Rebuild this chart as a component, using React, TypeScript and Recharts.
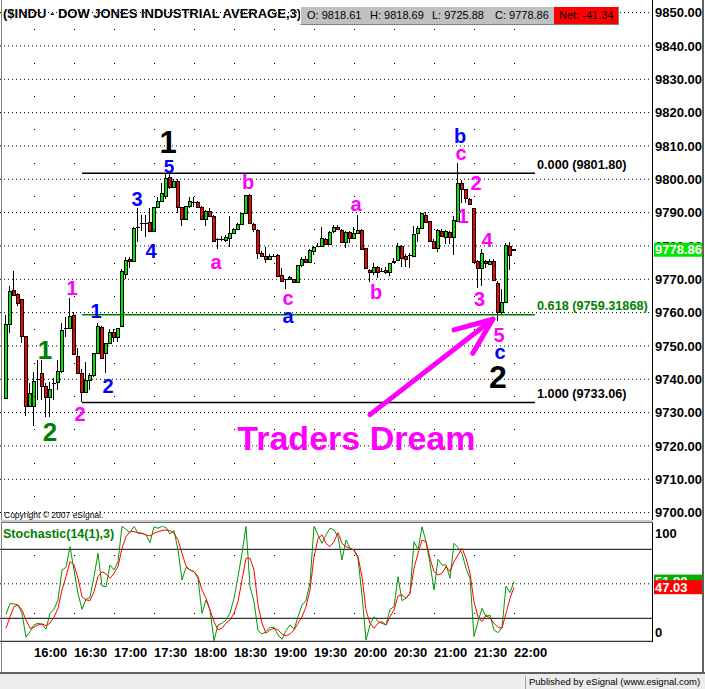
import React from 'react';
import { ComposedChart, Bar, Line, XAxis, YAxis, ReferenceLine, ReferenceDot } from 'recharts';

const FONT = '"Liberation Sans", Arial, Helvetica, sans-serif';
const GREEN_BODY = '#00e600';
const RED_BODY = '#ff0000';
const PINK = '#ff00ff';
const BLUE = '#0000ff';
const DKGREEN = '#008000';

// ---- 3-minute candles, $INDU ----
const opens = [
  9734.3, 9756.5, 9766.8, 9765.5, 9764.0, 9753.0, 9732.0, 9732.0, 9740.0, 9741.8,
  9738.0, 9734.6, 9739.0, 9739.3, 9742.5, 9755.5, 9755.3, 9759.3, 9747.0, 9741.8,
  9736.3, 9739.8, 9741.3, 9748.0, 9755.8, 9747.8, 9750.8, 9754.1, 9752.8, 9756.0,
  9771.6, 9776.0, 9775.5, 9785.8, 9786.8, 9787.0, 9787.1, 9784.6, 9791.8, 9793.5,
  9795.0, 9800.8, 9797.6, 9799.5, 9791.6, 9788.0, 9792.0, 9793.3, 9793.3, 9791.8,
  9788.0, 9790.5, 9789.0, 9782.0, 9782.2, 9781.8, 9782.5, 9784.0, 9785.0, 9786.6,
  9789.8, 9795.3, 9786.6, 9784.8, 9777.8, 9777.0, 9776.1, 9777.1, 9777.3, 9771.3,
  9770.0, 9770.1, 9770.1, 9769.1, 9774.2, 9776.2, 9775.3, 9778.6, 9780.0, 9780.0,
  9782.1, 9780.6, 9784.6, 9785.8, 9784.8, 9781.3, 9784.3, 9782.3, 9784.0, 9784.8,
  9779.3, 9772.8, 9772.1, 9773.6, 9772.6, 9772.8, 9772.2, 9775.2, 9775.8, 9780.0,
  9777.0, 9777.3, 9777.1, 9784.0, 9785.3, 9789.3, 9787.5, 9781.6, 9779.3, 9784.6,
  9782.8, 9784.3, 9782.6, 9787.6, 9798.8, 9797.0, 9794.1, 9791.3, 9775.6, 9773.5,
  9775.5, 9774.5, 9775.5, 9769.0, 9760.3, 9763.3, 9780.0, 9779.0,
];
const highs = [
  9759.3, 9768.0, 9772.5, 9766.0, 9764.0, 9753.0, 9739.0, 9742.3, 9745.8, 9745.8,
  9739.0, 9739.3, 9740.3, 9745.8, 9756.8, 9758.8, 9764.5, 9760.3, 9749.3, 9743.0,
  9745.3, 9742.0, 9748.0, 9756.8, 9756.0, 9751.0, 9755.0, 9755.0, 9755.5, 9773.0,
  9776.8, 9776.8, 9785.8, 9791.3, 9789.3, 9789.3, 9791.3, 9791.8, 9794.8, 9798.8,
  9801.8, 9801.5, 9800.0, 9800.0, 9791.6, 9792.0, 9794.6, 9794.8, 9793.6, 9792.0,
  9790.8, 9791.3, 9789.3, 9782.3, 9783.0, 9783.3, 9789.0, 9785.5, 9786.8, 9790.0,
  9795.3, 9795.5, 9786.8, 9785.0, 9778.6, 9779.8, 9777.5, 9777.6, 9777.5, 9773.3,
  9770.2, 9771.0, 9770.1, 9774.2, 9776.8, 9777.0, 9779.1, 9780.0, 9780.8, 9785.8,
  9782.3, 9784.5, 9786.3, 9786.3, 9785.0, 9784.6, 9784.6, 9785.8, 9789.3, 9785.0,
  9779.3, 9773.0, 9774.8, 9774.0, 9773.5, 9773.6, 9775.0, 9776.3, 9780.8, 9780.3,
  9777.5, 9777.8, 9786.0, 9786.0, 9789.8, 9790.3, 9787.5, 9782.0, 9785.0, 9785.0,
  9784.8, 9784.6, 9789.1, 9805.0, 9799.8, 9797.2, 9794.3, 9791.3, 9775.8, 9779.0,
  9775.8, 9776.0, 9776.0, 9769.5, 9767.0, 9781.0, 9781.3, 9779.0,
];
const lows = [
  9734.3, 9754.0, 9765.0, 9762.0, 9751.0, 9729.0, 9732.0, 9726.0, 9733.8, 9733.8,
  9728.8, 9728.8, 9733.8, 9736.8, 9741.8, 9752.8, 9755.3, 9747.5, 9741.8, 9733.1,
  9736.0, 9736.8, 9740.8, 9748.0, 9746.3, 9742.0, 9750.8, 9751.3, 9751.3, 9755.8,
  9770.0, 9773.3, 9775.5, 9781.3, 9784.5, 9782.6, 9784.3, 9784.6, 9791.8, 9793.5,
  9794.0, 9797.0, 9797.6, 9789.8, 9786.1, 9788.0, 9791.3, 9791.8, 9791.3, 9787.8,
  9786.0, 9788.8, 9781.5, 9779.1, 9781.6, 9781.3, 9779.8, 9783.8, 9784.8, 9786.6,
  9789.6, 9786.6, 9784.3, 9776.1, 9776.8, 9774.8, 9775.8, 9776.6, 9770.8, 9769.6,
  9767.1, 9769.8, 9769.3, 9769.1, 9773.8, 9775.0, 9775.0, 9777.3, 9779.6, 9779.8,
  9780.5, 9780.6, 9784.0, 9784.8, 9781.0, 9779.3, 9780.8, 9782.0, 9783.8, 9779.0,
  9773.3, 9769.3, 9771.3, 9770.5, 9772.1, 9771.5, 9771.0, 9775.0, 9775.6, 9773.6,
  9773.8, 9773.5, 9777.0, 9781.3, 9785.3, 9787.0, 9781.3, 9779.0, 9778.3, 9783.0,
  9780.6, 9780.6, 9777.3, 9787.6, 9792.8, 9792.8, 9792.3, 9775.0, 9767.3, 9768.0,
  9773.3, 9774.3, 9769.8, 9757.5, 9759.3, 9763.3, 9772.8, 9778.8,
];
const closes = [
  9756.5, 9766.5, 9765.3, 9763.0, 9753.0, 9732.0, 9736.0, 9739.5, 9740.0, 9738.0,
  9734.6, 9737.2, 9739.0, 9742.5, 9754.8, 9755.5, 9759.0, 9747.5, 9741.8, 9736.3,
  9739.8, 9741.3, 9748.0, 9756.0, 9746.3, 9750.8, 9754.1, 9752.8, 9755.3, 9772.5,
  9775.8, 9775.5, 9785.3, 9785.8, 9786.8, 9787.0, 9784.6, 9791.8, 9793.5, 9795.8,
  9800.3, 9797.6, 9799.6, 9791.8, 9788.1, 9792.0, 9793.6, 9793.3, 9791.8, 9788.1,
  9790.5, 9789.1, 9781.6, 9782.0, 9782.2, 9782.6, 9784.0, 9785.0, 9786.6, 9789.8,
  9795.3, 9786.8, 9785.0, 9777.8, 9777.1, 9776.1, 9776.9, 9777.1, 9771.0, 9769.6,
  9770.0, 9770.8, 9769.3, 9774.2, 9776.0, 9775.3, 9778.8, 9779.8, 9780.0, 9782.3,
  9780.6, 9784.3, 9785.6, 9785.0, 9781.3, 9784.3, 9782.3, 9784.0, 9784.8, 9779.0,
  9773.3, 9772.1, 9773.6, 9772.3, 9772.6, 9772.2, 9774.8, 9775.6, 9780.0, 9776.3,
  9776.1, 9777.3, 9783.5, 9785.3, 9789.8, 9787.3, 9781.6, 9779.3, 9784.8, 9783.1,
  9784.5, 9782.6, 9787.8, 9798.8, 9797.2, 9794.3, 9792.5, 9775.3, 9773.5, 9777.8,
  9774.8, 9775.5, 9769.8, 9760.3, 9763.3, 9780.3, 9777.3, 9778.86,
];

// ---- Stochastic(14(1),3) ----
const stochK = [
  23.5, 32.8, 32.5, 31.6, 24.3, 3.5, 8.4, 14.2, 15.7, 14.8,
  10.4, 24.3, 27.8, 36.0, 62.0, 64.3, 82.3, 62.0, 41.7, 27.8,
  36.5, 38.3, 56.2, 76.5, 48.0, 47.5, 66.4, 62.0, 69.3, 100.0,
  97.4, 94.5, 100.0, 93.9, 93.9, 92.5, 85.8, 99.7, 98.3, 100.0,
  99.0, 93.3, 96.2, 79.4, 53.3, 64.3, 62.0, 60.6, 54.8, 24.3,
  36.0, 27.2, 0.6, 14.2, 15.7, 18.6, 24.3, 37.4, 56.2, 76.5,
  100.0, 47.5, 34.5, 9.3, 6.4, 8.4, 12.2, 12.2, 5.5, 1.7,
  9.3, 14.2, 10.4, 21.4, 31.6, 35.4, 51.0, 100.0, 92.5, 85.2,
  92.5, 98.3, 96.8, 91.0, 70.7, 88.1, 80.9, 79.4, 72.2, 40.0,
  1.2, 14.2, 21.4, 17.1, 15.7, 14.2, 27.8, 30.1, 56.2, 35.4,
  37.4, 41.7, 86.7, 79.4, 99.7, 86.7, 67.8, 44.6, 71.3, 66.4,
  66.4, 54.8, 85.2, 81.7, 76.5, 63.5, 54.8, 4.1, 17.1, 28.7,
  21.4, 22.9, 9.9, 7.5, 12.2, 48.1, 42.3, 51.9,
];
const stochD = [
  11.3, 21.4, 30.1, 31.6, 27.2, 18.6, 11.3, 12.2, 14.2, 15.1,
  13.6, 15.7, 20.9, 28.7, 44.6, 56.2, 69.3, 66.4, 54.8, 38.8,
  36.0, 35.4, 43.2, 56.2, 60.6, 58.6, 54.8, 59.1, 64.9, 80.9,
  91.0, 95.4, 95.4, 94.5, 93.9, 92.5, 91.6, 93.9, 95.4, 96.2,
  96.8, 96.2, 93.9, 88.1, 76.5, 65.5, 62.0, 60.6, 56.2, 44.6,
  37.4, 27.2, 17.1, 9.9, 11.3, 15.7, 18.6, 24.3, 34.5, 53.3,
  72.2, 72.2, 62.0, 31.6, 15.7, 7.0, 9.9, 11.3, 9.9, 6.4,
  4.6, 6.4, 9.9, 15.7, 21.4, 30.1, 44.6, 73.6, 89.6, 92.5,
  85.2, 82.3, 86.7, 94.5, 85.2, 82.3, 80.9, 79.4, 73.6, 56.2,
  27.2, 15.7, 11.3, 15.7, 17.1, 14.2, 21.4, 27.2, 39.4, 40.3,
  37.4, 41.7, 63.5, 76.5, 88.1, 86.7, 72.2, 60.6, 57.7, 59.1,
  64.9, 60.6, 69.3, 75.1, 80.9, 72.2, 59.1, 34.5, 21.4, 17.1,
  22.9, 20.0, 15.7, 12.2, 11.3, 24.3, 37.4, 47.03,
];

// ---- axes ----
const priceTicks = [9700, 9710, 9720, 9730, 9740, 9750, 9760, 9770, 9780, 9790, 9800, 9810, 9820, 9830, 9840, 9850];
const gridDotPrices = [9705, 9715, 9725, 9735, 9745, 9755, 9765, 9775, 9785, 9795, 9805, 9815, 9825, 9835, 9845];
const timeTickBars = [7, 17, 27, 37, 47, 57, 67, 77, 87, 97, 107, 117, 127];
const timeTickLabels = ['16:00', '16:30', '17:00', '17:30', '18:00', '18:30', '19:00', '19:30', '20:00', '20:30', '21:00', '21:30', '22:00'];
const stochTicks = [0, 100];
const stochGridDots = [25, 75];

// ---- Fibonacci retracement ----
const fibPrices = [9801.8, 9759.31868, 9733.06];
const fibTexts = ['0.000 (9801.80)', '0.618 (9759.31868)', '1.000 (9733.06)'];
const fibColors = ['#000000', DKGREEN, '#000000'];
const fibStartBar = 19;
const fibEndBar = 132.25;

// ---- Elliott wave labels: bar position, price, text, colour, size ----
const waveBars = [40.5, 40.75, 32.75, 36.25, 22.5, 25.5, 9.75, 11, 16.5, 18.5, 52.5, 60.5, 70.5, 70.5, 87.5, 92.5, 113.5, 113.75, 117.5, 114.25, 120.25, 118.4, 123.25, 123.5, 123, 87.6];
const wavePrices = [9811.2, 9804.0, 9794.1, 9778.6, 9760.5, 9738.0, 9748.9, 9724.2, 9767.5, 9729.6, 9774.6, 9799.2, 9763.8, 9758.5, 9792.0, 9766.2, 9813.0, 9807.4, 9799.0, 9789.0, 9781.9, 9764.2, 9753.3, 9747.6, 9740.7, 9722.4];
const waveTexts = ['1', '5', '3', '4', '1', '2', '1', '2', '1', '2', 'a', 'b', 'c', 'a', 'a', 'b', 'b', 'c', '2', '1', '4', '3', '5', 'c', '2', 'Traders Dream'];
const waveColors = ['#000000', BLUE, BLUE, BLUE, BLUE, BLUE, DKGREEN, DKGREEN, PINK, PINK, PINK, PINK, PINK, BLUE, PINK, PINK, BLUE, PINK, PINK, PINK, PINK, PINK, PINK, BLUE, '#000000', PINK];
const waveSizes = [31, 19, 20, 20, 20, 20, 26, 26, 20, 20, 20, 20, 20, 20, 20, 20, 20, 20, 20, 20, 20, 20, 20, 20, 32, 34];

// ---- arrow (tail -> tip, and two head wings) ----
const arrowBars = [91, 121.7, 112, 116.7];
const arrowPrices = [9729.4, 9758.0, 9754.8, 9747.8];

const candles = opens.map((o, i) => ({
  i,
  o,
  h: highs[i],
  l: lows[i],
  c: closes[i],
  range: [lows[i], highs[i]],
  k: stochK[i],
  d: stochD[i],
}));

const X_DOMAIN: [number, number] = [-1.5, 161.75];
const lastClose = closes[closes.length - 1];
const lastK = stochK[stochK.length - 1];
const lastD = stochD[stochD.length - 1];

function Candle(props: any) {
  const { x, y, width, height, payload } = props;
  if (!payload || x == null) return null;
  const { o, h, l, c } = payload;
  const center = x + width / 2;
  const px = Math.round(center - 0.5);
  const span = h - l;
  const toY = (p: number) => (span > 0 ? y + ((h - p) / span) * height : y);
  const yHigh = Math.round(toY(h));
  const yLow = Math.round(toY(l));
  const yTop = Math.round(toY(Math.max(o, c)));
  const yBot = Math.round(toY(Math.min(o, c)));
  const up = c > o;
  const down = c < o;
  const bodyH = yBot - yTop;
  return (
    <g shapeRendering="crispEdges">
      <rect x={px} y={yHigh} width={1} height={Math.max(yLow - yHigh, 1)} fill="#000" />
      {(up || down) && bodyH >= 1 ? (
        <>
          <rect x={px - 1} y={yTop} width={4} height={bodyH + 1} fill="#000" />
          {bodyH > 1 && <rect x={px} y={yTop + 1} width={2} height={bodyH - 1} fill={up ? GREEN_BODY : RED_BODY} />}
        </>
      ) : (
        <rect x={px - 1} y={yTop} width={4} height={1} fill="#000" />
      )}
    </g>
  );
}

function ValueBoxAt({ x, y, bg, text }: { x: number; y: number; bg: string; text: string }) {
  return (
    <g>
      <rect x={x - 1} y={y - 7} width={49} height={14} fill={bg} />
      <text x={x} y={y} dy="0.36em" textAnchor="start" fontFamily={FONT} fontWeight="bold" fontSize={13} fill="#fff">
        {text}
      </text>
    </g>
  );
}

function PriceTick(props: any) {
  const { x, y, payload } = props;
  const v = Number(payload.value);
  if (Math.abs(v - lastClose) < 1e-9) {
    return <ValueBoxAt x={x} y={y} bg="#00e600" text={v.toFixed(2)} />;
  }
  return (
    <text x={x} y={y} dy="0.36em" textAnchor="start" fontFamily={FONT} fontWeight="bold" fontSize={13} fill="#000">
      {v.toFixed(2)}
    </text>
  );
}

function StochTick(props: any) {
  const { x, y, payload } = props;
  const v = Number(payload.value);
  if (Math.abs(v - lastK) < 1e-9) return <ValueBoxAt x={x} y={y} bg="#00b000" text={v.toFixed(2)} />;
  if (Math.abs(v - lastD) < 1e-9) return <ValueBoxAt x={x} y={y} bg="#ff0000" text={v.toFixed(2)} />;
  const shift = v >= 100 ? 7 : -9;
  return (
    <text x={x} y={y + shift} dy="0.36em" textAnchor="start" fontFamily={FONT} fontWeight="bold" fontSize={13} fill="#000">
      {v}
    </text>
  );
}

function TimeTick(props: any) {
  const { x, y, payload } = props;
  const idx = timeTickBars.indexOf(payload.value);
  return (
    <text x={x} y={y + 9.5} dy="0.36em" textAnchor="start" fontFamily={FONT} fontWeight="bold" fontSize={13} fill="#000">
      {idx >= 0 ? timeTickLabels[idx] : ''}
    </text>
  );
}

function waveShape(idx: number) {
  return (p: any) => {
    const t = waveTexts[idx];
    const lower = /^[acemnorsuvwxz]$/.test(t);
    return (
      <text
        x={p.cx}
        y={p.cy}
        dy={lower ? '0.27em' : '0.36em'}
        textAnchor="middle"
        fontFamily={FONT}
        fontWeight="bold"
        fontSize={waveSizes[idx]}
        fill={waveColors[idx]}
      >
        {t}
      </text>
    );
  };
}

function fibShape(idx: number) {
  return (p: any) => (
    <text x={p.cx} y={p.cy - 4.5} textAnchor="start" fontFamily={FONT} fontWeight="bold" fontSize={12.7} fill={fibColors[idx]}>
      {fibTexts[idx]}
    </text>
  );
}

const dotShape = (p: any) => <rect x={Math.round(p.cx)} y={Math.round(p.cy)} width={1} height={1} fill="#000" />;

function PriceChart() {
  return (
    <ComposedChart width={705} height={523} data={candles} margin={{ top: 12.6, right: 0, bottom: 10.4, left: 0 }}>
      <XAxis dataKey="i" type="number" domain={X_DOMAIN} allowDataOverflow hide />
      <YAxis
        orientation="right"
        domain={[9700, 9850]}
        allowDataOverflow
        ticks={[...priceTicks, lastClose]}
        interval={0}
        width={52}
        tickLine={false}
        tickSize={0}
        tickMargin={2}
        axisLine={false}
        tick={<PriceTick />}
      />
      {priceTicks.map((p) => (
        <ReferenceLine key={'g' + p} y={p} stroke="#000" strokeDasharray="1 3" />
      ))}
      {timeTickBars.map((b) =>
        gridDotPrices.map((p) => (
          <ReferenceDot key={'d' + b + '_' + p} x={b} y={p} r={0} shape={dotShape} />
        ))
      )}
      {fibPrices.map((p, idx) => (
        <ReferenceLine
          key={'f' + idx}
          segment={[{ x: fibStartBar, y: p }, { x: fibEndBar, y: p }]}
          stroke={fibColors[idx]}
          strokeWidth={1.5}
        />
      ))}
      {fibPrices.map((p, idx) => (
        <ReferenceDot key={'ft' + idx} x={fibEndBar + 0.5} y={p} r={0} shape={fibShape(idx)} />
      ))}
      <Bar dataKey="range" barSize={3} shape={<Candle />} isAnimationActive={false} />
      <ReferenceLine
        segment={[{ x: arrowBars[0], y: arrowPrices[0] }, { x: arrowBars[1], y: arrowPrices[1] }]}
        stroke={PINK}
        strokeWidth={5}
        strokeLinecap="round"
      />
      <ReferenceLine
        segment={[{ x: arrowBars[2], y: arrowPrices[2] }, { x: arrowBars[1], y: arrowPrices[1] }]}
        stroke={PINK}
        strokeWidth={5}
        strokeLinecap="round"
      />
      <ReferenceLine
        segment={[{ x: arrowBars[3], y: arrowPrices[3] }, { x: arrowBars[1], y: arrowPrices[1] }]}
        stroke={PINK}
        strokeWidth={5}
        strokeLinecap="round"
      />
      {waveTexts.map((t, idx) => (
        <ReferenceDot key={'w' + idx} x={waveBars[idx]} y={wavePrices[idx]} r={0} shape={waveShape(idx)} />
      ))}
    </ComposedChart>
  );
}

function StochChart() {
  return (
    <ComposedChart width={705} height={150} data={candles} margin={{ top: 3.3, right: 0, bottom: 0, left: 0 }}>
      <XAxis
        dataKey="i"
        type="number"
        domain={X_DOMAIN}
        allowDataOverflow
        ticks={timeTickBars}
        interval={0}
        height={31.7}
        tickLine={false}
        tickSize={0}
        axisLine={{ stroke: '#000' }}
        tick={<TimeTick />}
      />
      <YAxis
        orientation="right"
        domain={[0, 100]}
        allowDataOverflow
        ticks={[...stochTicks, lastK, lastD]}
        interval={0}
        width={52}
        tickLine={false}
        tickSize={0}
        tickMargin={2}
        axisLine={false}
        tick={<StochTick />}
      />
      <ReferenceLine y={80} stroke="#000" />
      <ReferenceLine y={20} stroke="#000" />
      <ReferenceLine y={50} stroke="#000" strokeDasharray="1 3" />
      {timeTickBars.map((b) =>
        stochGridDots.map((v) => <ReferenceDot key={'sd' + b + '_' + v} x={b} y={v} r={0} shape={dotShape} />)
      )}
      <Line type="linear" dataKey="k" stroke="#009600" strokeWidth={1} dot={false} isAnimationActive={false} />
      <Line type="linear" dataKey="d" stroke="#ff0000" strokeWidth={1} dot={false} isAnimationActive={false} />
    </ComposedChart>
  );
}

const abs = (s: React.CSSProperties): React.CSSProperties => ({ position: 'absolute', ...s });

export default function App() {
  return (
    <div style={abs({ left: 0, top: 0, width: 705, height: 689, background: '#fff', overflow: 'hidden', fontFamily: FONT })}>
      <div style={abs({ left: 0, top: 0 })}>
        <PriceChart />
      </div>
      <div style={abs({ left: 0, top: 523 })}>
        <StochChart />
      </div>

      {/* title + OHLC box */}
      <div style={abs({ left: 3, top: 6, fontSize: 13, fontWeight: 'bold', lineHeight: '16px', whiteSpace: 'nowrap', color: '#000' })}>
        ($INDU - DOW JONES INDUSTRIAL AVERAGE,3)
      </div>
      <div
        style={abs({
          left: 300,
          top: 6,
          width: 317,
          height: 17,
          background: '#c0c0c0',
          borderTop: '1px solid #ffffff',
          borderLeft: '1px solid #ffffff',
          borderRight: '1px solid #808080',
          borderBottom: '1px solid #808080',
        })}
      />
      <div style={abs({ left: 554, top: 7, width: 64, height: 17, background: '#ff0000' })} />
      <div style={abs({ left: 307, top: 8, fontSize: 11, lineHeight: '14px', whiteSpace: 'nowrap' })}>O: 9818.61</div>
      <div style={abs({ left: 370, top: 8, fontSize: 11, lineHeight: '14px', whiteSpace: 'nowrap' })}>H: 9818.69</div>
      <div style={abs({ left: 432, top: 8, fontSize: 11, lineHeight: '14px', whiteSpace: 'nowrap' })}>L: 9725.88</div>
      <div style={abs({ left: 495, top: 8, fontSize: 11, lineHeight: '14px', whiteSpace: 'nowrap' })}>C: 9778.86</div>
      <div style={abs({ left: 559, top: 8, fontSize: 11, lineHeight: '14px', whiteSpace: 'nowrap' })}>Net: -41.34</div>

      {/* copyright */}
      <div style={abs({ left: 4, top: 510, fontSize: 8.5, lineHeight: '10px', whiteSpace: 'nowrap', color: '#000' })}>
        Copyright © 2007 eSignal.
      </div>

      {/* stochastic title */}
      <div style={abs({ left: 3, top: 527, fontSize: 12.5, fontWeight: 'bold', lineHeight: '15px', whiteSpace: 'nowrap', color: DKGREEN })}>
        Stochastic(14(1),3)
      </div>

      {/* frame lines */}
      <div style={abs({ left: 1, top: 0, width: 1, height: 673, background: '#808080' })} />
      <div style={abs({ left: 652, top: 0, width: 1, height: 642, background: '#000' })} />
      <div style={abs({ left: 702, top: 0, width: 2, height: 674, background: '#606060' })} />
      <div style={abs({ left: 1, top: 520, width: 652, height: 2, background: '#c8c8c8' })} />
      <div style={abs({ left: 1, top: 522, width: 652, height: 1, background: '#707070' })} />

      {/* status bar */}
      <div style={abs({ left: 0, top: 672, width: 705, height: 2, background: '#606060' })} />
      <div style={abs({ left: 0, top: 674, width: 705, height: 15, background: '#ececec' })} />
      <div style={abs({ left: 525, top: 676, width: 1, height: 13, background: '#a0a0a0' })} />
      <div style={abs({ left: 529, top: 675, fontSize: 9.5, lineHeight: '13px', whiteSpace: 'nowrap', color: '#000' })}>
        Published by eSignal (www.esignal.com)
      </div>
    </div>
  );
}
